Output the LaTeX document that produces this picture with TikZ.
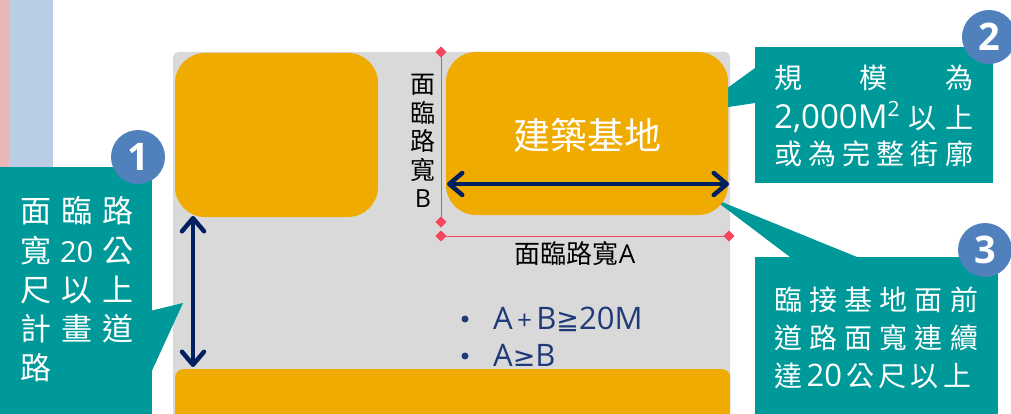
\documentclass[tikz,border=0pt]{standalone}
\usepackage{fontspec}
\setmainfont{Noto Sans CJK TC}
\newfontfamily\numfont{Open Sans}
\newfontfamily\symfont{DejaVu Sans}
\usetikzlibrary{arrows.meta,shapes.geometric}
\definecolor{cPink}{HTML}{E6B9B8}
\definecolor{cStripe}{HTML}{B9CDE5}
\definecolor{cGray}{HTML}{D9D9D9}
\definecolor{cYel}{HTML}{F0AB00}
\definecolor{cTeal}{HTML}{009999}
\definecolor{cBlue}{HTML}{5081BD}
\definecolor{cNavy}{HTML}{002060}
\definecolor{cRed}{HTML}{F5455F}
\definecolor{cBullet}{HTML}{1F3A78}
\begin{document}
\begin{tikzpicture}[x=1pt,y=-1pt,
  yel/.style={fill=cYel,draw=none,rounded corners=30pt,inner sep=0},
  tealfill/.style={fill=cTeal,draw=none},
  numc/.style={circle,fill=cBlue,minimum size=54pt,inner sep=0,text=white,font=\numfont\bfseries\fontsize{38}{38}\selectfont},
  redd/.style={diamond,fill=cRed,minimum size=11pt,inner sep=0},
  redline/.style={draw=cRed,line width=1pt},
  wtxt/.style={text=white,inner sep=0,anchor=west},
  dimarrow/.style={draw=cNavy,line width=4.5pt,{Straight Barb[length=13pt,width=22pt,round]}-{Straight Barb[length=13pt,width=22pt,round]}},
  btxt/.style={text=cBullet,inner sep=0,anchor=base west,font=\numfont\fontsize{31}{31}\selectfont},
  bdot/.style={circle,fill=cBullet,minimum size=7pt,inner sep=0}
]
\useasboundingbox (0,0) rectangle (1011,414);
\clip (0,0) rectangle (1011,414);
% left stripes
\fill[cPink] (0,0) rectangle (9,414);
\fill[cStripe] (9,0) rectangle (53,414);
% gray ground
\fill[cGray,rounded corners=5pt] (173,52) -- (730,52) -- (730,430) -- (173,430) -- cycle;
% callout wedges behind blocks
\fill[tealfill] (755,68) -- (715,97) -- (715,109) -- (755,103) -- cycle;
\fill[tealfill] (712,198) -- (857,257) -- (790,257) -- cycle;
% yellow blocks
\node[yel,minimum width=203pt,minimum height=164pt] (tl) at (276.5,135) {};
\node[yel,minimum width=282pt,minimum height=163pt] (site) at (587,133.5) {};
\node[text=white,inner sep=0,font=\fontsize{37}{37}\selectfont] (sitelbl) at (587,135) {建築基地};
% dimension lines
\node[redd] (d1) at (441,52) {};
\node[redd] (d2) at (441,222) {};
\node[redd] (d3) at (441,236) {};
\node[redd] (d4) at (729,236) {};
\draw[redline] (d1.center) -- (d2.center);
\draw[redline] (d3.center) -- (d4.center);
\node[redd] at (d1) {};
\node[redd] at (d2) {};
\node[redd] at (d3) {};
\node[redd] at (d4) {};
\node[inner sep=0,align=center,font=\fontsize{25}{28.5}\selectfont] (lblB) at (423,141) {面\\臨\\路\\寬\\{\numfont B}};
\node[inner sep=0,font=\fontsize{26}{26}\selectfont] (lblA) at (575,254) {面臨路寬{\numfont A}};
% arrows
\coordinate (hL) at (447,184);
\coordinate (hR) at (729,184);
\draw[dimarrow] (hL) -- (hR);
\coordinate (vT) at (193,216);
\coordinate (vB) at (193,367);
\draw[dimarrow] (vT) -- (vB);
% bullets
\node[bdot] (b1dot) at (465,319) {};
\node[btxt] (b1) at (493,329) {A{\fontsize{26}{26}\selectfont\,+\,}B{\symfont\fontsize{27}{27}\selectfont ≧}20M};
\node[bdot] (b2dot) at (465,356) {};
\node[btxt] (b2) at (493,366) {A{\symfont\fontsize{27}{27}\selectfont ≥}B};
% bottom block
\node[fill=cYel,rounded corners=8pt,minimum width=555pt,minimum height=70pt,inner sep=0,anchor=north west] (bot) at (175,369) {};
% callout 1
\fill[tealfill] (150,311) -- (183,303) -- (150,375) -- cycle;
\fill[tealfill] (0,167) rectangle (152,414);
\begin{scope}[every node/.style={wtxt,font=\fontsize{31}{31}\selectfont}]
\node (c1a) at (20,211) {\makebox[113pt]{面\hfill 臨\hfill 路}};
\node (c1b) at (20,251) {\makebox[113pt]{寬\hfill {\numfont\fontsize{29}{29}\selectfont 20}\hfill 公}};
\node (c1c) at (20,290) {\makebox[113pt]{尺\hfill 以\hfill 上}};
\node (c1d) at (20,329) {\makebox[113pt]{計\hfill 畫\hfill 道}};
\node (c1e) at (20,368) {路};
\end{scope}
\node[numc] (n1) at (138,157) {1};
% callout 2
\fill[tealfill] (755,47) rectangle (993,183);
\begin{scope}[every node/.style={wtxt,font=\fontsize{28}{28}\selectfont}]
\node (c2a) at (774,78) {\makebox[199pt]{規\hfill 模\hfill 為}};
\node (c2b) at (774,117) {\makebox[199pt]{{\numfont\fontsize{33}{33}\selectfont 2,000M\raisebox{0.36em}{\fontsize{21}{21}\selectfont 2}}\hfill 以\hfill 上}};
\node (c2c) at (774,154) {\makebox[199pt]{或\hfill 為\hfill 完\hfill 整\hfill 街\hfill 廓}};
\end{scope}
\node[numc] (n2) at (989,37) {2};
% callout 3
\fill[tealfill] (755,257) rectangle (998,414);
\begin{scope}[every node/.style={wtxt,font=\fontsize{28}{28}\selectfont}]
\node (c3a) at (774,300) {\makebox[204pt]{臨\hfill 接\hfill 基\hfill 地\hfill 面\hfill 前}};
\node (c3b) at (774,338) {\makebox[204pt]{道\hfill 路\hfill 面\hfill 寬\hfill 連\hfill 續}};
\node (c3c) at (774,376) {\makebox[197pt]{達\hfill {\numfont\fontsize{31}{31}\selectfont 20}\hfill 公\hfill 尺\hfill 以\hfill 上}};
\end{scope}
\node[numc] (n3) at (985,250) {3};
\end{tikzpicture}
\end{document}
